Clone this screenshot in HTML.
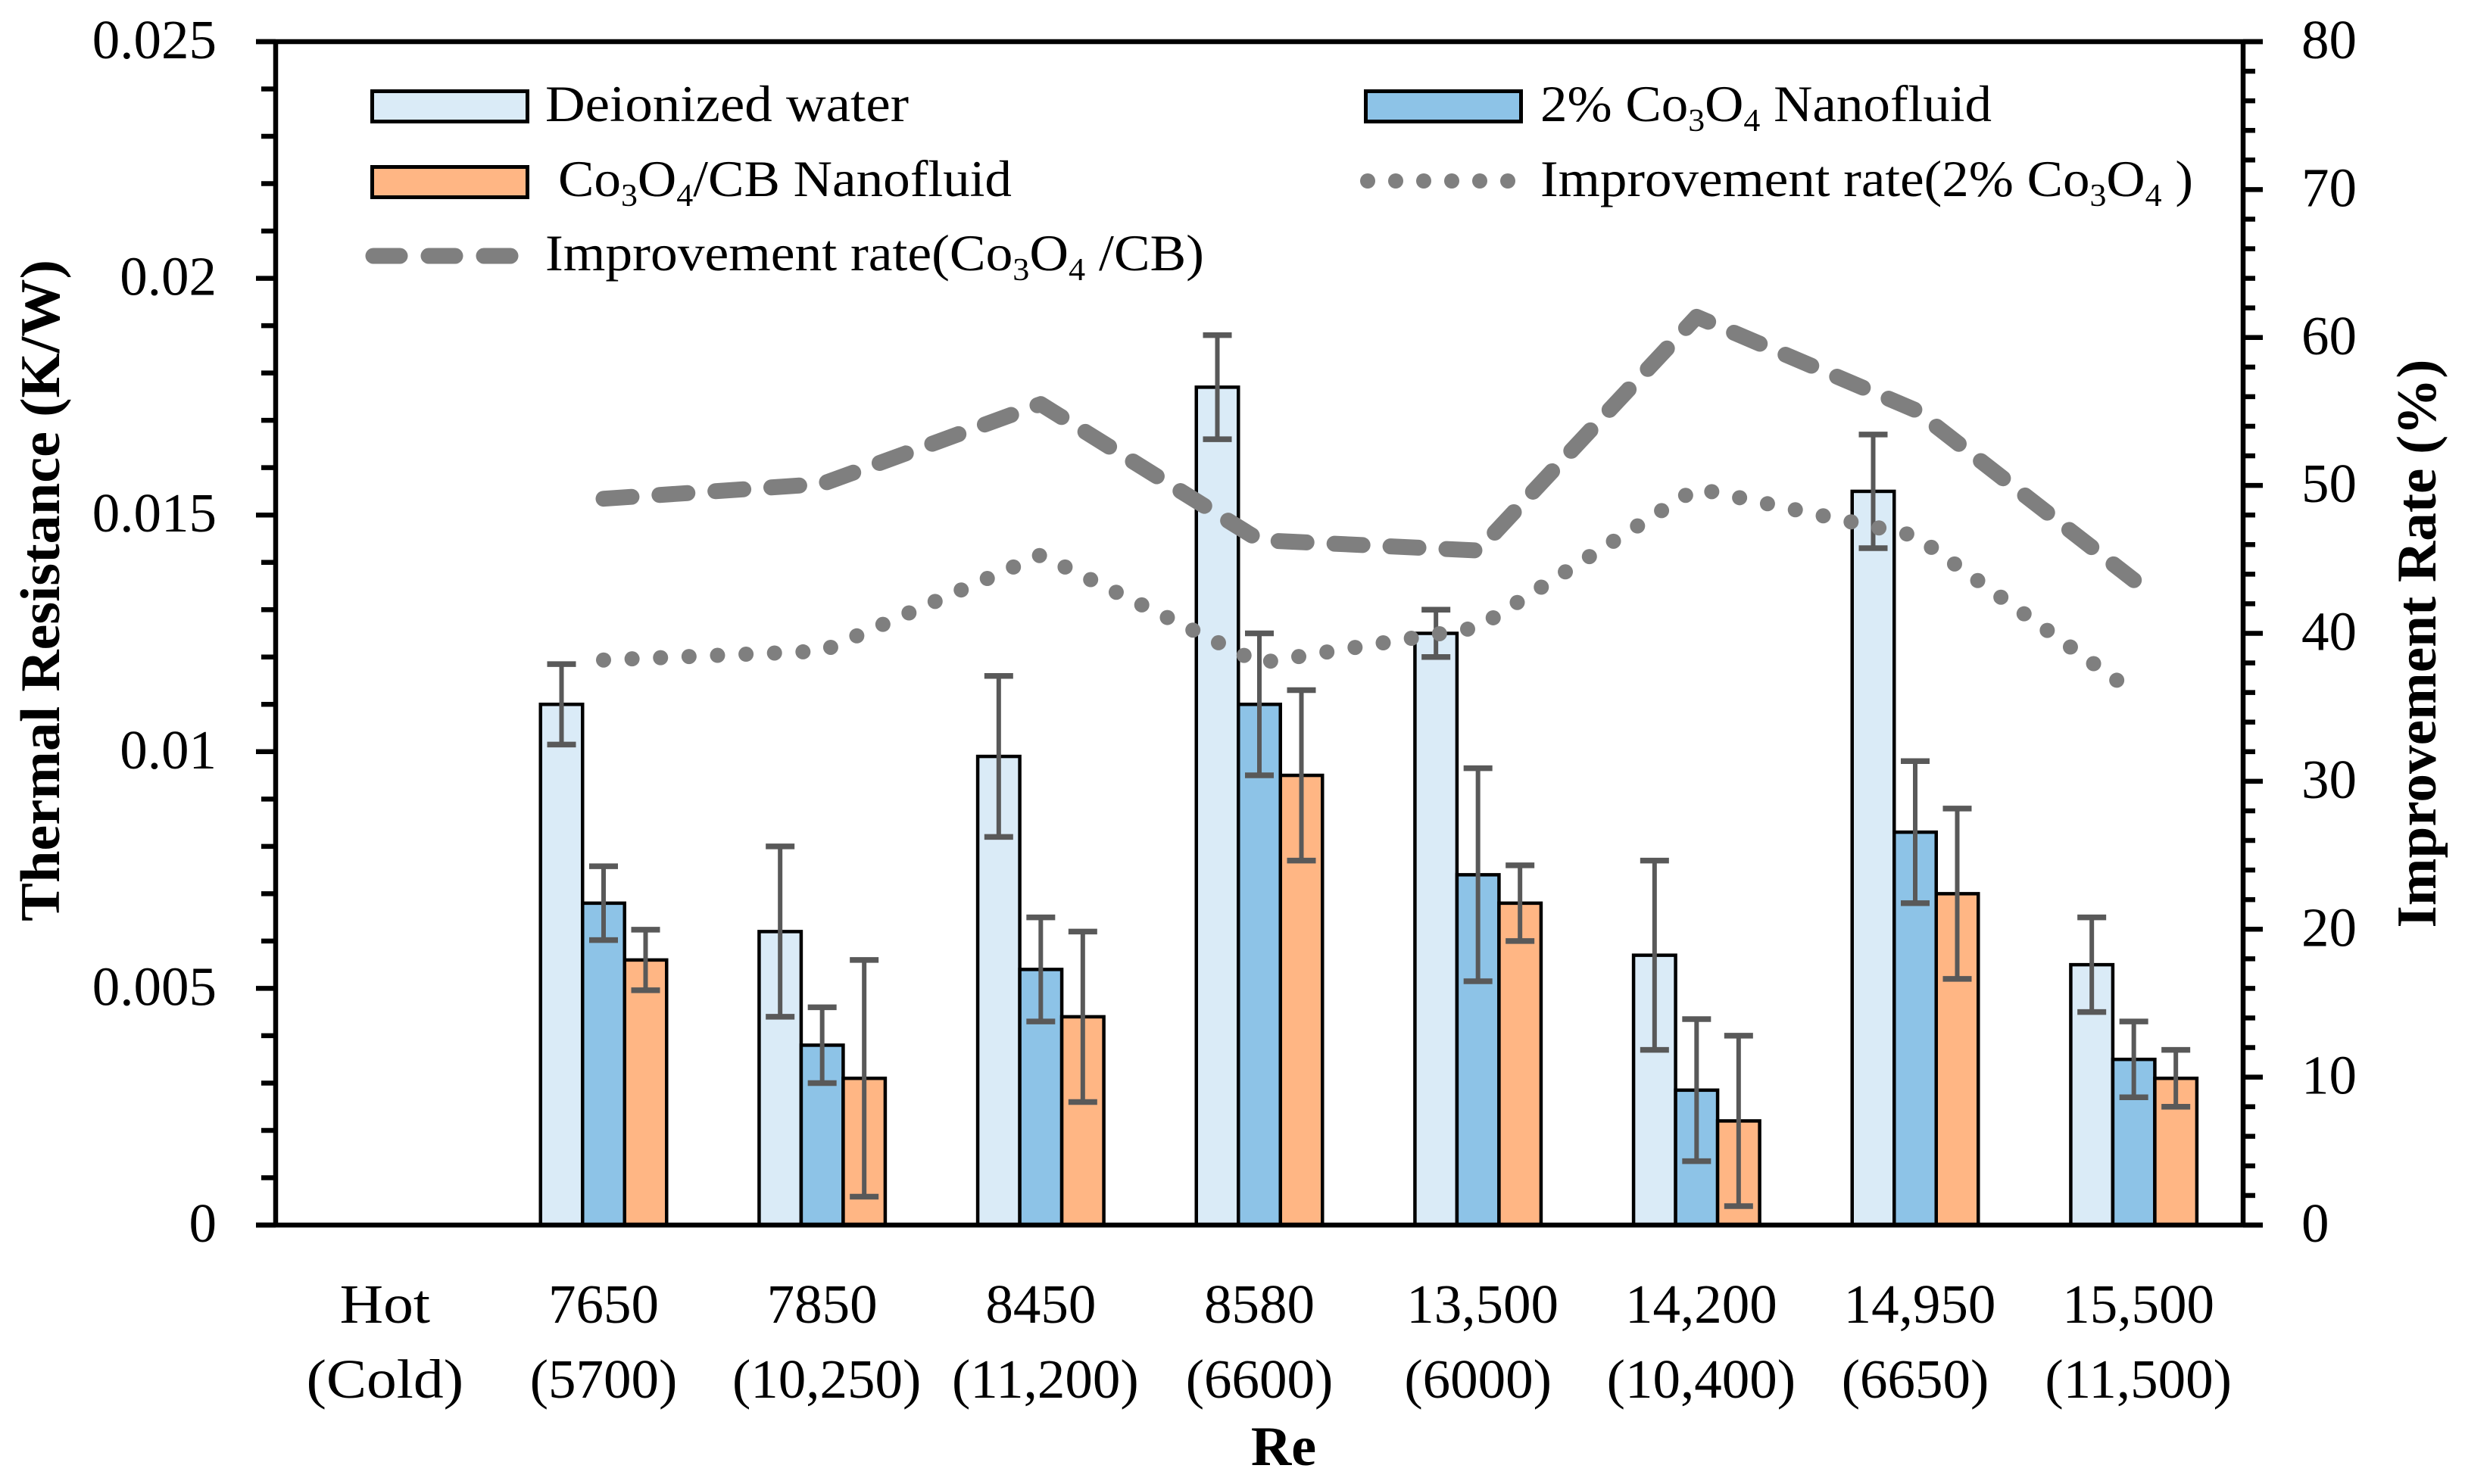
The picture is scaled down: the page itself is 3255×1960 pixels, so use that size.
<!DOCTYPE html>
<html lang="en">
<head>
<meta charset="utf-8">
<title>Thermal Resistance and Improvement Rate versus Re</title>
<style>
html,body{margin:0;padding:0;background:#fff;}
svg{display:block;}
text{font-family:"Liberation Serif",serif;fill:#000;}
</style>
</head>
<body>
<svg id="chart" xmlns="http://www.w3.org/2000/svg" width="3255" height="1960" viewBox="0 0 3255 1960">
  <rect x="0" y="0" width="3255" height="1960" fill="#fff"/>
  <g id="bars"></g>
  <g id="errors"></g>
  <g id="lines"></g>
  <g id="axes"></g>
  <g id="labels"></g>

  <g>
    <rect x="491.5" y="120.5" width="205" height="40" fill="#DAEBF7" stroke="#000" stroke-width="5"/>
    <text x="720" y="160" font-size="68" textLength="480" lengthAdjust="spacingAndGlyphs">Deionized water</text>

    <rect x="1803.5" y="120.5" width="205" height="40" fill="#8DC3E7" stroke="#000" stroke-width="5"/>
    <text x="2034" y="160" font-size="68" textLength="596" lengthAdjust="spacingAndGlyphs">2% Co<tspan font-size="42" dy="13">3</tspan><tspan dy="-13">O</tspan><tspan font-size="42" dy="13">4</tspan><tspan dy="-13"> Nanofluid</tspan></text>

    <rect x="491.5" y="220.5" width="205" height="40" fill="#FFB684" stroke="#000" stroke-width="5"/>
    <text x="737" y="259" font-size="68" textLength="599" lengthAdjust="spacingAndGlyphs">Co<tspan font-size="42" dy="13">3</tspan><tspan dy="-13">O</tspan><tspan font-size="42" dy="13">4</tspan><tspan dy="-13">/CB Nanofluid</tspan></text>

    <line x1="1806" y1="239" x2="1993" y2="239" stroke="#7F7F7F" stroke-width="20" stroke-linecap="round" stroke-dasharray="0 37"/>
    <text x="2034" y="259" font-size="68" textLength="862" lengthAdjust="spacingAndGlyphs">Improvement rate(2% Co<tspan font-size="42" dy="13">3</tspan><tspan dy="-13">O</tspan><tspan font-size="42" dy="13">4</tspan><tspan dy="-13"> )</tspan></text>

    <line x1="493" y1="338" x2="676" y2="338" stroke="#7F7F7F" stroke-width="21" stroke-linecap="round" stroke-dasharray="35 38"/>
    <text x="720" y="357" font-size="68" textLength="870" lengthAdjust="spacingAndGlyphs">Improvement rate(Co<tspan font-size="42" dy="13">3</tspan><tspan dy="-13">O</tspan><tspan font-size="42" dy="13">4</tspan><tspan dy="-13"> /CB)</tspan></text>
  </g>

  <text transform="translate(78,780) rotate(-90)" text-anchor="middle" font-size="74" font-weight="bold" textLength="874" lengthAdjust="spacingAndGlyphs">Thermal Resistance (K/W)</text>
  <text transform="translate(3216,850) rotate(-90)" text-anchor="middle" font-size="74" font-weight="bold" textLength="751" lengthAdjust="spacingAndGlyphs">Improvement Rate (%)</text>
  <text x="1695" y="1935" text-anchor="middle" font-size="74" font-weight="bold">Re</text>
</svg>

<script>
// ---- data ----
const hotLabels = ["Hot", "7650", "7850", "8450", "8580", "13,500", "14,200", "14,950", "15,500"];
const coldLabels = ["(Cold)", "(5700)", "(10,250)", "(11,200)", "(6600)", "(6000)", "(10,400)", "(6650)", "(11,500)"];

const waterValues = [null, 0.011, 0.0062, 0.0099, 0.0177, 0.0125, 0.0057, 0.0155, 0.0055];
const co3o4Values = [null, 0.0068, 0.0038, 0.0054, 0.011, 0.0074, 0.00285, 0.0083, 0.0035];
const hybridValues = [null, 0.0056, 0.0031, 0.0044, 0.0095, 0.0068, 0.0022, 0.007, 0.0031];

const waterErrors = [null, 0.00085, 0.0018, 0.0017, 0.0011, 0.0005, 0.002, 0.0012, 0.001];
const co3o4Errors = [null, 0.00078, 0.0008, 0.0011, 0.0015, 0.00225, 0.0015, 0.0015, 0.0008];
const hybridErrors = [null, 0.00064, 0.0025, 0.0018, 0.0018, 0.0008, 0.0018, 0.0018, 0.0006];

const rateCo3o4 = [null, 38.2, 38.8, 45.3, 38.0, 40.4, 49.8, 46.6, 36.0];
const rateHybrid = [null, 49.1, 50.1, 55.5, 46.3, 45.6, 61.4, 55.1, 43.6];

const leftTicks = ["0", "0.005", "0.01", "0.015", "0.02", "0.025"];
const rightTicks = ["0", "10", "20", "30", "40", "50", "60", "70", "80"];

const leftMax = 0.025;
const rightMax = 80;
const leftMinorPerMajor = 5;
const rightMinorPerMajor = 5;

// ---- plot geometry and axis functions ----
const plot = { left: 364, right: 2962, top: 55, bottom: 1618 };
const barWidth = 55.5;
const NS = "http://www.w3.org/2000/svg";

function xCenter(i) { return plot.left + (plot.right - plot.left) * (i + 0.5) / hotLabels.length; }
function yLeft(v) { return plot.bottom - (plot.bottom - plot.top) * v / leftMax; }
function yRight(v) { return plot.bottom - (plot.bottom - plot.top) * v / rightMax; }

function mk(tag, parent, attrs) {
  const el = document.createElementNS(NS, tag);
  for (const k in attrs) el.setAttribute(k, attrs[k]);
  parent.appendChild(el);
  return el;
}

const barsG = document.getElementById("bars");
const errG = document.getElementById("errors");
const linesG = document.getElementById("lines");
const axesG = document.getElementById("axes");
const labelsG = document.getElementById("labels");

// ---- bars and error bars ----
function drawSeries(values, errors, offset, fill, key) {
  values.forEach(function (v, i) {
    if (v === null) return;
    const cx = xCenter(i) + offset * barWidth;
    const bar = mk("rect", barsG, { x: cx - barWidth / 2, y: yLeft(v), width: barWidth, height: yLeft(0) - yLeft(v), fill: fill, stroke: "#000", "stroke-width": 4.5 });
    
    

    const e = errors[i];
    const hi = yLeft(v + e);
    const lo = yLeft(v - e);
    const stem = mk("line", errG, { x1: cx, x2: cx, y1: hi, y2: lo, stroke: "#595959", "stroke-width": 6 });
    
    
    const capTop = mk("line", errG, { x1: cx - 19, x2: cx + 19, y1: hi, y2: hi, stroke: "#595959", "stroke-width": 7.5 });
    
    
    const capBottom = mk("line", errG, { x1: cx - 19, x2: cx + 19, y1: lo, y2: lo, stroke: "#595959", "stroke-width": 7.5 });
    
    
  });
}
drawSeries(waterValues, waterErrors, -1, "#DAEBF7", "water");
drawSeries(co3o4Values, co3o4Errors, 0, "#8DC3E7", "co3o4");
drawSeries(hybridValues, hybridErrors, 1, "#FFB684", "hybrid");

// ---- improvement rate lines ----
function linePath(values) {
  let d = "";
  values.forEach(function (v, i) {
    if (v === null) return;
    d += (d ? " L" : "M") + xCenter(i).toFixed(1) + " " + yRight(v).toFixed(1);
  });
  return d;
}
const dottedLine = mk("path", linesG, { d: linePath(rateCo3o4), fill: "none", stroke: "#7F7F7F", "stroke-width": 20, "stroke-linecap": "round", "stroke-linejoin": "round", "stroke-dasharray": "0 37.65" });


const dashedLine = mk("path", linesG, { d: linePath(rateHybrid), fill: "none", stroke: "#7F7F7F", "stroke-width": 21, "stroke-linecap": "round", "stroke-linejoin": "round", "stroke-dasharray": "37 37" });



// ---- axes ----
const axisW = 6.5;
function rule(x1, y1, x2, y2, name) {
  const l = mk("line", axesG, { x1: x1, y1: y1, x2: x2, y2: y2, stroke: "#000", "stroke-width": axisW });
  
  
}
rule(plot.left, plot.top, plot.left, plot.bottom, "left-axis-line");
rule(plot.right, plot.top, plot.right, plot.bottom, "right-axis-line");
rule(plot.left - 26, plot.top, plot.right + 26, plot.top, "top-axis-line");
rule(plot.left - 26, plot.bottom, plot.right + 26, plot.bottom, "bottom-axis-line");

function tickText(x, y, str, anchor, name) {
  const t = mk("text", labelsG, { x: x, y: y, "font-size": 73, "text-anchor": anchor });
  t.textContent = str;
  
  
  return t;
}

leftTicks.forEach(function (label, k) {
  const step = leftMax / (leftTicks.length - 1);
  const y = yLeft(k * step);
  rule(plot.left - 26, y, plot.left, y, "left-major-tick");
  tickText(286, y + 22, label, "end", "left-tick-label");
  if (k < leftTicks.length - 1) {
    for (let m = 1; m < leftMinorPerMajor; m++) {
      const my = yLeft((k + m / leftMinorPerMajor) * step);
      rule(plot.left - 19, my, plot.left, my, "left-minor-tick");
    }
  }
});

rightTicks.forEach(function (label, k) {
  const step = rightMax / (rightTicks.length - 1);
  const y = yRight(k * step);
  rule(plot.right, y, plot.right + 26, y, "right-major-tick");
  tickText(3039, y + 22, label, "start", "right-tick-label");
  if (k < rightTicks.length - 1) {
    for (let m = 1; m < rightMinorPerMajor; m++) {
      const my = yRight((k + m / rightMinorPerMajor) * step);
      rule(plot.right, my, plot.right + 16, my, "right-minor-tick");
    }
  }
});

// Category labels: labels with a thousands comma sit slightly right of centre,
// and the word labels are set wider in the reference face.
function categoryLabel(label, y, name, i) {
  const nudge = label.indexOf(",") >= 0 ? 6 : 0;
  const t = tickText(xCenter(i) + nudge, y, label, "middle", name);
  if (/[A-Za-z]/.test(label)) {
    t.setAttribute("textLength", (t.getComputedTextLength() * 1.09).toFixed(1));
    t.setAttribute("lengthAdjust", "spacingAndGlyphs");
  }
}
hotLabels.forEach(function (label, i) {
  categoryLabel(label, 1747, "x-tick-label-hot", i);
  categoryLabel(coldLabels[i], 1846, "x-tick-label-cold", i);
});
</script>
</body>
</html>
